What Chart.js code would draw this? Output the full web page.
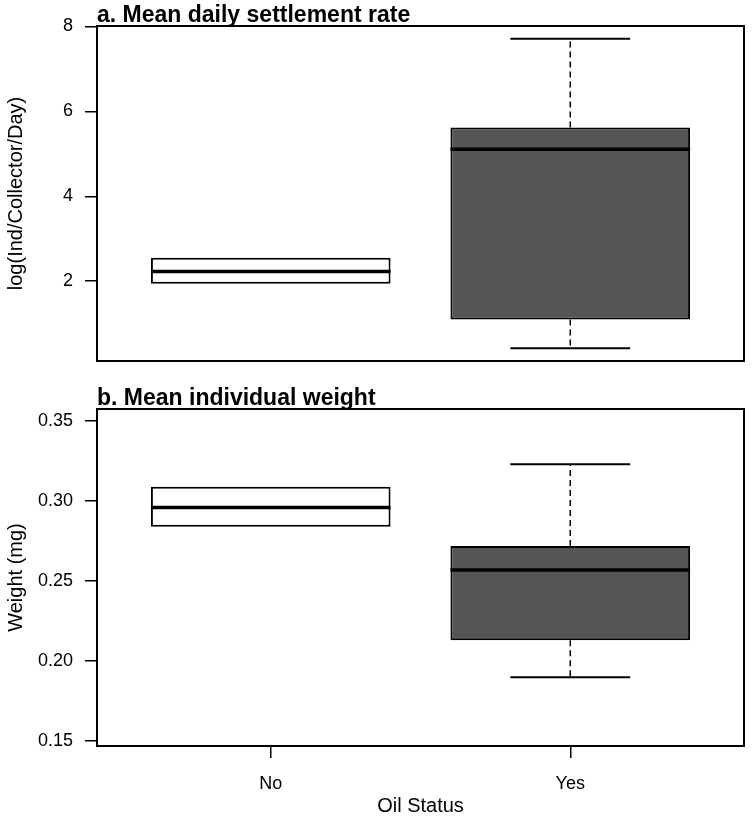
<!DOCTYPE html>
<html>
<head>
<meta charset="utf-8">
<script src="https://cdn.jsdelivr.net/npm/chart.js@4.4.1/dist/chart.umd.min.js"></script>
<style>
html,body{margin:0;padding:0;background:#fff;}
#wrap{position:relative;width:752px;height:818px;}
canvas{position:absolute;left:0;}
</style>
</head>
<body>
<div id="wrap">
<canvas id="chartA" width="752" height="375" style="top:0"></canvas>
<canvas id="chartB" width="752" height="443" style="top:375px"></canvas>
</div>
<script>
const oilStatus = ["No", "Yes"];

// a. settlement rate, log(Ind/Collector/Day)
const settleMin    = [1.94, 0.42];
const settleQ1     = [1.94, 1.10];
const settleMedian = [2.23, 5.11];
const settleQ3     = [2.55, 5.62];
const settleMax    = [2.55, 7.71];
const settleTicks  = [2, 4, 6, 8];

// b. individual weight (mg)
const weightMin    = [0.284, 0.190];
const weightQ1     = [0.284, 0.213];
const weightMedian = [0.296, 0.257];
const weightQ3     = [0.309, 0.272];
const weightMax    = [0.309, 0.323];
const weightTicks  = [0.15, 0.20, 0.25, 0.30, 0.35];

const boxFill = ["#ffffff", "#555555"];
const FONT = "'Liberation Sans', Arial, sans-serif";

// medians, whiskers, frame and panel title
const boxPlugin = {
    id: 'boxExtras',
    afterDatasetsDraw(chart) {
        const o = chart.options.plugins.boxExtras;
        const xs = chart.scales.x, ys = chart.scales.y;
        const ctx = chart.ctx;
        ctx.save();
        ctx.strokeStyle = '#000';
        for (let i = 0; i < oilStatus.length; i++) {
            const cx = xs.getPixelForValue(i + 1);
            const half = xs.getPixelForValue(i + 1.4) - cx;
            const cap = xs.getPixelForValue(i + 1.2) - cx;
            // whiskers
            const ends = [[o.q3[i], o.max[i]], [o.q1[i], o.min[i]]];
            ends.forEach(([from, to]) => {
                if (from === to) return;
                ctx.lineWidth = 1.5;
                ctx.setLineDash([6, 4]);
                ctx.beginPath();
                ctx.moveTo(cx, ys.getPixelForValue(from));
                ctx.lineTo(cx, ys.getPixelForValue(to));
                ctx.stroke();
                ctx.setLineDash([]);
                ctx.lineWidth = 2;
                ctx.beginPath();
                ctx.moveTo(cx - cap, ys.getPixelForValue(to));
                ctx.lineTo(cx + cap, ys.getPixelForValue(to));
                ctx.stroke();
            });
            // median
            ctx.lineWidth = 3.5;
            ctx.beginPath();
            const my = ys.getPixelForValue(o.median[i]);
            ctx.moveTo(cx - half, my);
            ctx.lineTo(cx + half, my);
            ctx.stroke();
        }
        const a = chart.chartArea;
        ctx.lineWidth = 2;
        ctx.strokeRect(a.left, a.top, a.right - a.left, a.bottom - a.top);
        ctx.fillStyle = '#000';
        ctx.font = 'bold 23px ' + FONT;
        ctx.textBaseline = 'alphabetic';
        ctx.fillText(o.title, a.left, a.top - 4);
        ctx.restore();
    }
};

function makeChart(id, p) {
    return new Chart(document.getElementById(id), {
        type: 'bar',
        data: {
            datasets: [{
                data: oilStatus.map((c, i) => ({ x: i + 1, y: [p.q1[i], p.q3[i]] })),
                backgroundColor: boxFill,
                borderColor: '#000',
                borderWidth: 2,
                borderSkipped: false,
                categoryPercentage: 1,
                barPercentage: 0.8
            }]
        },
        options: {
            responsive: false,
            animation: false,
            devicePixelRatio: 1,
            layout: { padding: { top: p.top, right: 8, left: 0, bottom: 0 } },
            plugins: {
                legend: { display: false },
                tooltip: { enabled: false },
                boxExtras: p
            },
            scales: {
                x: {
                    type: 'linear',
                    offset: false,
                    min: 0.42, max: 2.58,
                    afterBuildTicks: s => { s.ticks = oilStatus.map((c, i) => ({ value: i + 1 })); },
                    afterFit: s => { s.height = p.xHeight; s.paddingLeft = 0; s.paddingRight = 0; },
                    border: { display: false },
                    grid: {
                        display: p.showX, offset: false, drawOnChartArea: false, drawTicks: true,
                        tickLength: 12, color: '#000', lineWidth: 1.5
                    },
                    ticks: {
                        display: p.showX, color: '#000', padding: 15,
                        font: { family: FONT, size: 18 },
                        callback: (v) => oilStatus[v - 1]
                    },
                    title: {
                        display: p.showX, text: 'Oil Status', color: '#000',
                        font: { family: FONT, size: 20 }, padding: { top: 0, bottom: 0 }
                    }
                },
                y: {
                    min: p.yMin, max: p.yMax,
                    afterBuildTicks: s => { s.ticks = p.ticks.map(v => ({ value: v })); },
                    afterFit: s => { s.width = 97; s.paddingTop = 0; s.paddingBottom = 0; },
                    border: { display: false },
                    grid: {
                        drawOnChartArea: false, drawTicks: true, tickLength: 12,
                        color: '#000', lineWidth: 1.5
                    },
                    ticks: {
                        color: '#000', padding: 12,
                        font: { family: FONT, size: 18 },
                        callback: p.fmt
                    },
                    title: {
                        display: true, text: p.yTitle, color: '#000',
                        font: { family: FONT, size: 20 }, padding: { top: 4, bottom: 0 }
                    }
                }
            }
        },
        plugins: [boxPlugin]
    });
}

makeChart('chartA', {
    title: 'a. Mean daily settlement rate',
    yTitle: 'log(Ind/Collector/Day)',
    min: settleMin, q1: settleQ1, median: settleMedian, q3: settleQ3, max: settleMax,
    ticks: settleTicks, yMin: 0.12, yMax: 8.01,
    fmt: v => String(v),
    top: 26, xHeight: 14, showX: false
});

makeChart('chartB', {
    title: 'b. Mean individual weight',
    yTitle: 'Weight (mg)',
    min: weightMin, q1: weightQ1, median: weightMedian, q3: weightQ3, max: weightMax,
    ticks: weightTicks, yMin: 0.147, yMax: 0.3575,
    fmt: v => v.toFixed(2),
    top: 34, xHeight: 72, showX: true
});
</script>
</body>
</html>
